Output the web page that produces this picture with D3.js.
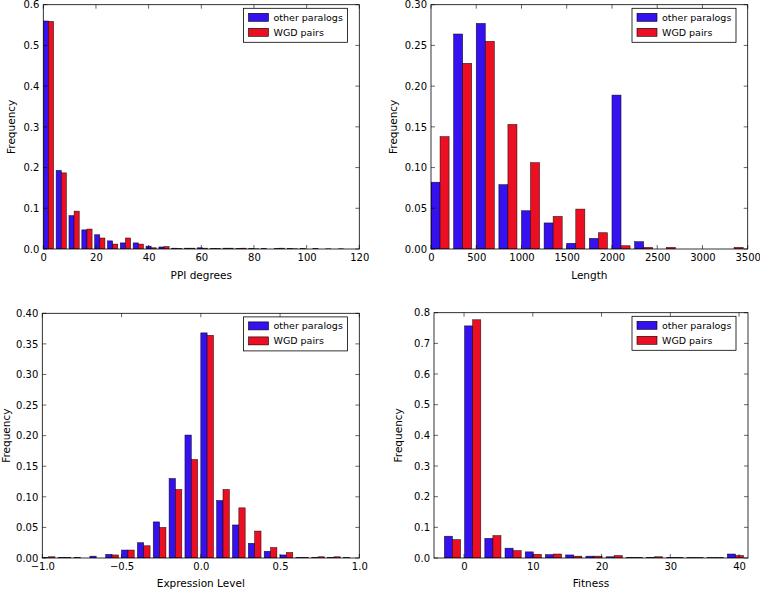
<!DOCTYPE html>
<html>
<head>
<meta charset="utf-8">
<script src="https://cdn.jsdelivr.net/npm/d3@7"></script>
<style>
  html, body { margin: 0; padding: 0; background: #fff; }
  svg { display: block; }
  text { font-family: "DejaVu Sans", sans-serif; fill: #000; }
</style>
</head>
<body>
<svg id="chart" width="760" height="590"></svg>
<script>
// ---------- DATA ----------
const seriesNames = ["other paralogs", "WGD pairs"];

// PPI degrees histogram (bins start 0, width 4.875)
const ppiBins = { start: 0, width: 4.875 };
const ppiOther = [0.560, 0.193, 0.082, 0.047, 0.035, 0.020, 0.015, 0.015, 0.007, 0.005, 0.002, 0.002, 0.003, 0.001, 0.002, 0.001, 0.001, 0.001, 0.001, 0.001, 0.001, 0.001, 0.0005, 0.0005];
const ppiWGD   = [0.559, 0.187, 0.093, 0.049, 0.027, 0.012, 0.027, 0.012, 0.003, 0.006, 0.001, 0.002, 0.002, 0.001, 0.002, 0.002, 0.0005, 0, 0.002, 0.0005, 0, 0, 0, 0];
const ppiXTicks = [0, 20, 40, 60, 80, 100, 120];
const ppiYTicks = [0.0, 0.1, 0.2, 0.3, 0.4, 0.5, 0.6];

// Length histogram (bins start 0, width 250)
const lenBins = { start: 0, width: 250 };
const lenOther = [0.082, 0.264, 0.277, 0.079, 0.047, 0.032, 0.007, 0.013, 0.189, 0.009, 0, 0, 0, 0];
const lenWGD   = [0.138, 0.228, 0.255, 0.153, 0.106, 0.040, 0.049, 0.020, 0.004, 0.002, 0.002, 0, 0, 0.002];
const lenXTicks = [0, 500, 1000, 1500, 2000, 2500, 3000, 3500];
const lenYTicks = [0.00, 0.05, 0.10, 0.15, 0.20, 0.25, 0.30];

// Expression level histogram (bins start -1, width 0.1)
const expBins = { start: -1.0, width: 0.1 };
const expOther = [0.0005, 0.001, 0.001, 0.003, 0.006, 0.013, 0.025, 0.059, 0.130, 0.201, 0.368, 0.094, 0.054, 0.024, 0.011, 0.005, 0.001, 0.001, 0.001, 0.0005];
const expWGD   = [0.002, 0.001, 0, 0, 0.005, 0.013, 0.020, 0.050, 0.112, 0.161, 0.364, 0.112, 0.082, 0.044, 0.017, 0.009, 0.001, 0.002, 0.002, 0];
const expXTicks = [-1.0, -0.5, 0.0, 0.5, 1.0];
const expYTicks = [0.00, 0.05, 0.10, 0.15, 0.20, 0.25, 0.30, 0.35, 0.40];

// Fitness histogram (bins start -2.86, width 2.94)
const fitBins = { start: -2.86, width: 2.94 };
const fitOther = [0.071, 0.757, 0.064, 0.032, 0.020, 0.011, 0.010, 0.006, 0.004, 0.002, 0.002, 0.002, 0.001, 0.001, 0.013];
const fitWGD   = [0.060, 0.777, 0.073, 0.024, 0.012, 0.013, 0.006, 0.006, 0.008, 0.002, 0.004, 0.002, 0.001, 0.001, 0.008];
const fitXTicks = [0, 10, 20, 30, 40];
const fitYTicks = [0.0, 0.1, 0.2, 0.3, 0.4, 0.5, 0.6, 0.7, 0.8];

// ---------- DRAW ----------
const colors = ["#3411ee", "#ec0f24"];
const svg = d3.select("#chart");

function panel(cfg) {
  const { box, xDomain, yDomain, bins, other, wgd, xTicks, yTicks, xFmt, yFmt, xLabel, yLabelX, xLabelY, legendX } = cfg;
  const x = d3.scaleLinear().domain(xDomain).range([box.l, box.r]);
  const y = d3.scaleLinear().domain(yDomain).range([box.b, box.t]);
  const g = svg.append("g");

  const clipId = "clip" + Math.round(box.l) + "_" + Math.round(box.t);
  g.append("clipPath").attr("id", clipId).append("rect")
    .attr("x", box.l).attr("y", box.t).attr("width", box.r - box.l).attr("height", box.b - box.t);

  const bars = g.append("g").attr("clip-path", `url(#${clipId})`);
  [other, wgd].forEach((vals, si) => {
    bars.selectAll(null).data(vals).enter().append("rect")
      .attr("x", (d, i) => x(bins.start + bins.width * (i + 0.4 * si)))
      .attr("width", (d, i) => x(bins.start + bins.width * (i + 0.4 * si + 0.4)) - x(bins.start + bins.width * (i + 0.4 * si)))
      .attr("y", d => y(d))
      .attr("height", d => y(0) - y(d))
      .attr("fill", colors[si])
      .attr("stroke", "#000")
      .attr("stroke-width", 0.6)
      .attr("stroke-opacity", d => d > 0 ? 0.8 : 0);
  });

  // frame
  g.append("rect").attr("x", box.l).attr("y", box.t)
    .attr("width", box.r - box.l).attr("height", box.b - box.t)
    .attr("fill", "none").attr("stroke", "#000").attr("stroke-width", 0.8);

  const tl = 4;
  // bottom axis
  const xb = d3.axisBottom(x).tickValues(xTicks).tickSize(0).tickPadding(5).tickFormat(xFmt);
  const xa = g.append("g").attr("transform", `translate(0,${box.b})`).call(xb);
  xa.select(".domain").remove();
  xa.selectAll("text").attr("font-size", 10).attr("font-family", "DejaVu Sans, sans-serif");
  // left axis
  const yl = d3.axisLeft(y).tickValues(yTicks).tickSize(0).tickPadding(4).tickFormat(yFmt);
  const ya = g.append("g").attr("transform", `translate(${box.l},0)`).call(yl);
  ya.select(".domain").remove();
  ya.selectAll("text").attr("font-size", 10).attr("font-family", "DejaVu Sans, sans-serif");

  // inward tick marks on all four sides
  const tk = g.append("g").attr("stroke", "#000").attr("stroke-width", 0.6);
  xTicks.forEach(v => {
    const px = x(v);
    tk.append("line").attr("x1", px).attr("x2", px).attr("y1", box.b).attr("y2", box.b - tl);
    tk.append("line").attr("x1", px).attr("x2", px).attr("y1", box.t).attr("y2", box.t + tl);
  });
  yTicks.forEach(v => {
    const py = y(v);
    tk.append("line").attr("x1", box.l).attr("x2", box.l + tl).attr("y1", py).attr("y2", py);
    tk.append("line").attr("x1", box.r).attr("x2", box.r - tl).attr("y1", py).attr("y2", py);
  });

  // labels
  g.append("text").attr("x", (box.l + box.r) / 2).attr("y", xLabelY)
    .attr("text-anchor", "middle").attr("font-size", 10.5).text(xLabel);
  g.append("text").attr("transform", `translate(${yLabelX},${(box.t + box.b) / 2}) rotate(-90)`)
    .attr("text-anchor", "middle").attr("font-size", 10.5).text("Frequency");

  // legend
  const lg = g.append("g").attr("transform", `translate(${legendX},${box.t + 3.6})`);
  lg.append("rect").attr("x", 0).attr("y", 0).attr("width", 104).attr("height", 34)
    .attr("fill", "#fff").attr("stroke", "#000").attr("stroke-width", 0.8);
  seriesNames.forEach((n, i) => {
    lg.append("rect").attr("x", 5).attr("y", 5 + i * 15).attr("width", 20).attr("height", 8)
      .attr("fill", colors[i]).attr("stroke", "#000").attr("stroke-width", 0.6);
    lg.append("text").attr("x", 30).attr("y", 12.5 + i * 15).attr("font-size", 9.5).text(n);
  });
}

const f1 = d3.format(".1f"), f2 = d3.format(".2f");
const fd = d3.format("d");
const fExp = v => f1(v).replace("-", "\u2212");

panel({ box: { l: 43.3, r: 359.3, t: 4.7, b: 249 }, xDomain: [0, 120], yDomain: [0, 0.6],
  bins: ppiBins, other: ppiOther, wgd: ppiWGD, xTicks: ppiXTicks, yTicks: ppiYTicks,
  xFmt: fd, yFmt: f1, xLabel: "PPI degrees", yLabelX: 14.5, xLabelY: 279, legendX: 243.5 });

panel({ box: { l: 431, r: 747.7, t: 4.7, b: 249 }, xDomain: [0, 3500], yDomain: [0, 0.30],
  bins: lenBins, other: lenOther, wgd: lenWGD, xTicks: lenXTicks, yTicks: lenYTicks,
  xFmt: fd, yFmt: f2, xLabel: "Length", yLabelX: 396.5, xLabelY: 279, legendX: 632 });

panel({ box: { l: 42.3, r: 359.3, t: 313.3, b: 558 }, xDomain: [-1, 1], yDomain: [0, 0.40],
  bins: expBins, other: expOther, wgd: expWGD, xTicks: expXTicks, yTicks: expYTicks,
  xFmt: fExp, yFmt: f2, xLabel: "Expression Level", yLabelX: 10, xLabelY: 587, legendX: 243.5 });

panel({ box: { l: 434, r: 748, t: 312.7, b: 558 }, xDomain: [-4.37, 41.3], yDomain: [0, 0.8],
  bins: fitBins, other: fitOther, wgd: fitWGD, xTicks: fitXTicks, yTicks: fitYTicks,
  xFmt: fd, yFmt: f1, xLabel: "Fitness", yLabelX: 402, xLabelY: 587, legendX: 632 });
</script>
</body>
</html>
